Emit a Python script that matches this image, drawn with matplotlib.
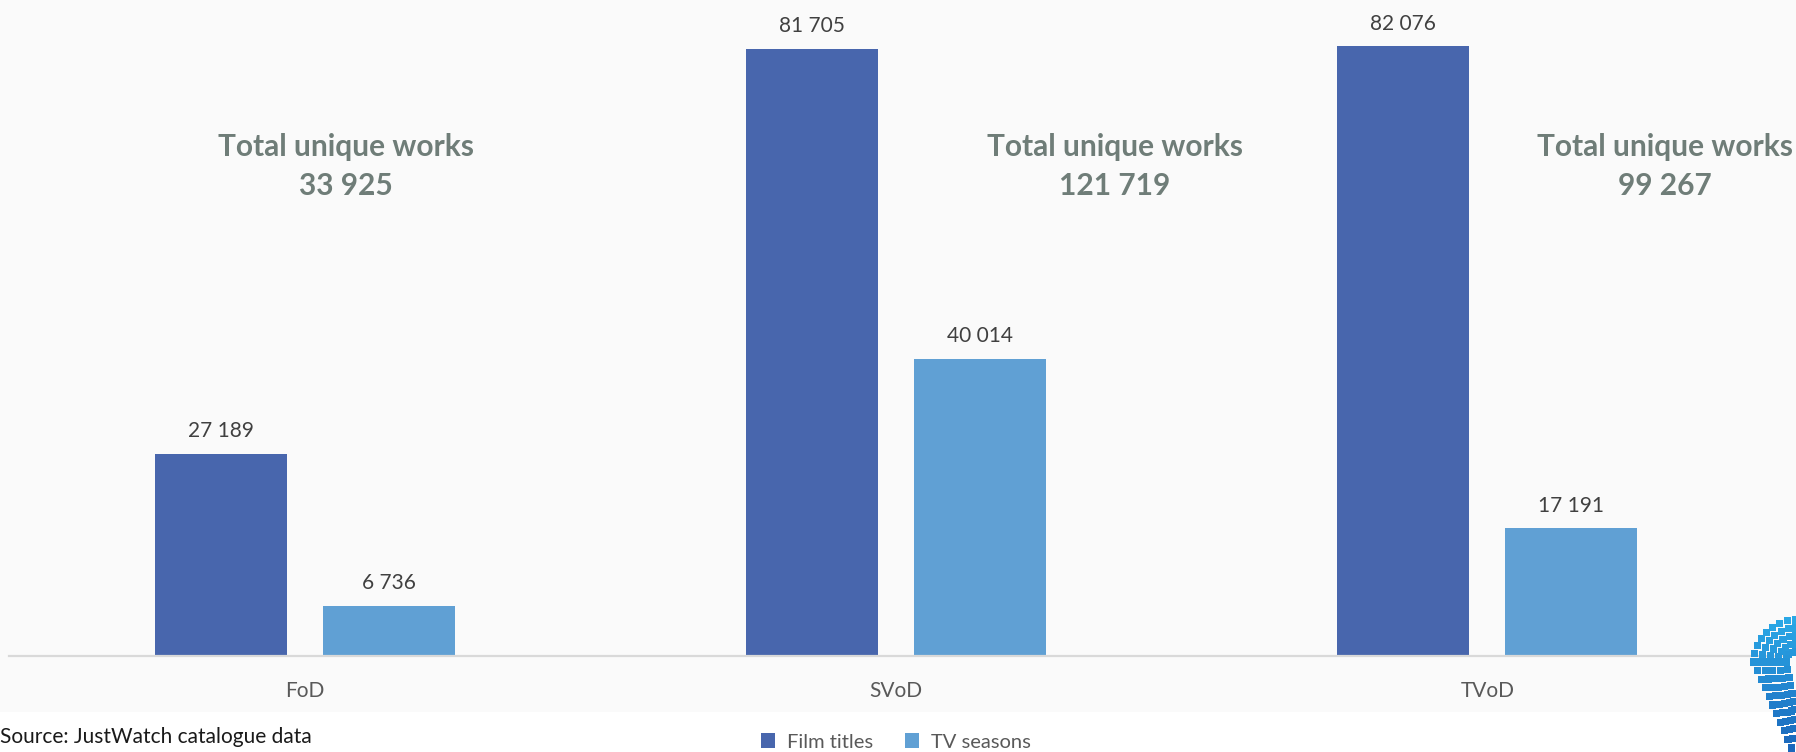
import matplotlib
matplotlib.use("Agg")
import matplotlib.pyplot as plt
from matplotlib.patches import Patch, Rectangle
import numpy as np

# data
categories = ["FoD", "SVoD", "TVoD"]
film_titles = [27189, 81705, 82076]
tv_seasons = [6736, 40014, 17191]
series_names = ["Film titles", "TV seasons"]

# placement of the "Total unique works" notes (x in category units)
total_x = [0.07, 0.37, 0.30]

FILM_COLOR = "#4866ad"
TV_COLOR = "#60a0d4"
LABEL_COLOR = "#404040"
AXIS_TEXT = "#595959"
TOTAL_COLOR = "#6f7d78"


def fmt(v):
    return f"{v:,}".replace(",", " ")


W, H, DPI = 1796, 752, 100
fig = plt.figure(figsize=(W / DPI, H / DPI), dpi=DPI)
fig.patch.set_facecolor("white")
plt.rcParams["font.family"] = ["Lato", "DejaVu Sans"]

# light grey chart area
fig.patches.append(Rectangle((0, 1 - 712 / H), 1, 712 / H, transform=fig.transFigure,
                             facecolor="#fafafa", edgecolor="none", zorder=-10))

ax = fig.add_axes([9 / W, 1 - 656 / H, 1774 / W, 656 / H])
ax.set_facecolor("none")

x = np.arange(len(categories))
width = 0.223
offset = 0.142
b1 = ax.bar(x - offset, film_titles, width, color=FILM_COLOR, label=series_names[0], zorder=2)
b2 = ax.bar(x + offset, tv_seasons, width, color=TV_COLOR, label=series_names[1], zorder=2)

for bars in (b1, b2):
    for rect in bars:
        h = rect.get_height()
        ax.annotate(fmt(int(h)), (rect.get_x() + rect.get_width() / 2, h),
                    xytext=(0, 12), textcoords="offset points",
                    ha="center", va="baseline", fontsize=15, color=LABEL_COLOR)

ax.set_xlim(-0.5, 2.5)
ax.set_ylim(0, 88300)
ax.set_xticks(x)
ax.set_xticklabels(categories, fontsize=15, color=AXIS_TEXT)
ax.tick_params(axis="x", length=0, pad=18)
ax.set_yticks([])
for s in ("top", "right", "left"):
    ax.spines[s].set_visible(False)
ax.spines["bottom"].set_color("#d9d9d9")
ax.spines["bottom"].set_linewidth(1.6)

# total unique works notes
for i, (f, t) in enumerate(zip(film_titles, tv_seasons)):
    ax.text(i + total_x[i], 68500, "Total unique works", ha="center", va="center",
            fontsize=21.5, fontweight="bold", color=TOTAL_COLOR, zorder=3)
    ax.text(i + total_x[i], 63300, fmt(f + t), ha="center", va="center",
            fontsize=21.5, fontweight="bold", color=TOTAL_COLOR, zorder=3)

fig.text(0, 1 - 743 / H, "Source: JustWatch catalogue data", ha="left", va="baseline",
         fontsize=15, color="#1a1a1a")

handles = [Patch(facecolor=FILM_COLOR, edgecolor="none"), Patch(facecolor=TV_COLOR, edgecolor="none")]
fig.legend(handles, series_names, loc="center", bbox_to_anchor=(896 / W, 1 - 742 / H),
           ncol=2, frameon=False, fontsize=14.5, labelcolor=AXIS_TEXT,
           handlelength=0.7, handleheight=0.7, handletextpad=0.6, columnspacing=1.6)

# rough logo mark at bottom-right corner (cut by the edge)
lax = fig.add_axes([1740 / W, 0, 56 / W, 137 / H])
lax.set_xlim(1740, 1796)
lax.set_ylim(752, 615)
lax.axis("off")
cmap = matplotlib.colors.LinearSegmentedColormap.from_list("logo", ["#2aa8e6", "#1b66bb"])
cx, cy = 1796, 662
for k, inset in enumerate([0, 8, 16, 24, 32]):
    r = 42 - inset
    n_arc = max(3, 9 - k)
    th = np.linspace(np.pi * 0.5, np.pi * 1.0, n_arc)
    px = cx + r * np.cos(th)
    py = cy - r * np.sin(th)
    n_tail = max(3, 11 - k)
    t = np.linspace(0, 1, n_tail)[1:]
    qx = (cx - r) + t * (r * 0.9)
    qy = cy + t * (86 - inset * 1.2)
    xs = np.concatenate([px, qx])
    ys = np.concatenate([py, qy])
    lax.scatter(xs, ys, s=26, marker="s", c=cmap((ys - 620) / 130), linewidths=0)

fig.savefig("out.png", dpi=DPI)
